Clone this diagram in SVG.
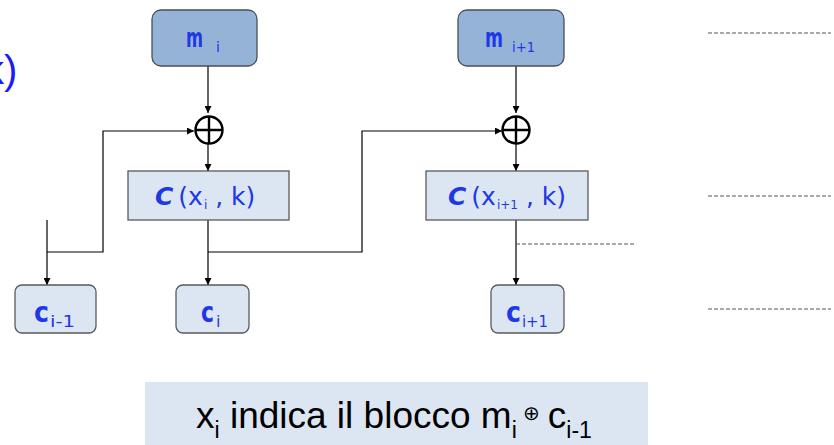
<svg xmlns="http://www.w3.org/2000/svg" width="834" height="445" viewBox="0 0 834 445">
<defs>
<marker id="ah" viewBox="0 0 10 10" refX="10" refY="5" markerWidth="7" markerHeight="7" markerUnits="userSpaceOnUse" orient="auto">
<path d="M0,0 L10,5 L0,10 z" fill="#000"/>
</marker>
<style>
.mbox{fill:#95b3d7;stroke:#4a4f57;stroke-width:1.3}
.cbox{fill:#dce6f2;stroke:#5a5a5a;stroke-width:1.3}
.lbl{font-family:"DejaVu Sans",sans-serif;fill:#1f38e6;font-weight:bold}
.lbn{font-family:"DejaVu Sans",sans-serif;fill:#1f38e6;font-weight:normal}
.ln{fill:none;stroke:#000;stroke-width:1.2}
.dash{fill:none;stroke:#555;stroke-width:1.2;stroke-dasharray:4,2}
.xor{fill:none;stroke:#000;stroke-width:2.4}
.cap{font-family:"Liberation Sans",Arial,sans-serif;fill:#000}
</style>
</defs>
<rect width="834" height="445" fill="#fff"/>
<text x="-16" y="84" font-family="Liberation Sans, Arial, sans-serif" font-size="40" fill="#1a1aff">k)</text>

<g id="connectors">
<path class="ln" d="M208,66 V113" marker-end="url(#ah)"/>
<path class="ln" d="M208,144 V171" marker-end="url(#ah)"/>
<path class="ln" d="M208,220 V285" marker-end="url(#ah)"/>
<path class="ln" d="M208,252 H362 V131 H502" marker-end="url(#ah)"/>
<path class="ln" d="M47,220 V285" marker-end="url(#ah)"/>
<path class="ln" d="M47,252 H103 V131 H194" marker-end="url(#ah)"/>
<path class="ln" d="M516,66 V113" marker-end="url(#ah)"/>
<path class="ln" d="M516,144 V171" marker-end="url(#ah)"/>
<path class="ln" d="M516,220 V285" marker-end="url(#ah)"/>
<path class="dash" d="M516,244 H636"/>
<path class="dash" d="M708,33 H831"/>
<path class="dash" d="M708,196 H831"/>
<path class="dash" d="M708,309 H831"/>
</g>

<g id="m_i">
<rect class="mbox" x="152" y="10" width="105" height="56" rx="9"/>
<text class="lbl" x="186" y="47" font-size="26" textLength="17" lengthAdjust="spacingAndGlyphs">m</text>
<text class="lbn" x="216" y="52" font-size="14">i</text>
</g>
<g id="m_i1">
<rect class="mbox" x="458" y="10" width="106" height="56" rx="9"/>
<text class="lbl" x="485" y="47" font-size="26" textLength="18" lengthAdjust="spacingAndGlyphs">m</text>
<text class="lbn" x="512" y="52" font-size="14" textLength="23" lengthAdjust="spacingAndGlyphs">i+1</text>
</g>

<g id="xor1">
<circle class="xor" cx="209" cy="130" r="13.5"/>
<path class="xor" d="M195.5,130 H222.5 M209,116.5 V143.5"/>
</g>
<g id="xor2">
<circle class="xor" cx="516" cy="130" r="13.5"/>
<path class="xor" d="M502.5,130 H529.5 M516,116.5 V143.5"/>
</g>

<g id="enc_i">
<rect class="cbox" x="128" y="171" width="161" height="49"/>
<text class="lbn" x="155" y="205" font-size="25"><tspan font-style="italic" font-weight="bold">C</tspan><tspan dx="5">(x</tspan><tspan font-size="12" dy="4" dx="1">i</tspan><tspan dy="-4"> , k)</tspan></text>
</g>
<g id="enc_i1">
<rect class="cbox" x="426" y="171" width="162" height="49"/>
<text class="lbn" x="448" y="205" font-size="25"><tspan font-style="italic" font-weight="bold">C</tspan><tspan dx="5">(x</tspan><tspan font-size="12" dy="4" dx="1">i+1</tspan><tspan dy="-4"> , k)</tspan></text>
</g>

<g id="c_im1">
<rect class="cbox" x="15" y="285" width="81" height="48" rx="7"/>
<text class="lbl" x="34" y="322" font-size="28" textLength="15" lengthAdjust="spacingAndGlyphs">c</text>
<text class="lbn" x="50" y="327" font-size="16" textLength="25" lengthAdjust="spacingAndGlyphs">i-1</text>
</g>
<g id="c_i">
<rect class="cbox" x="176" y="285" width="73" height="48" rx="7"/>
<text class="lbl" x="201" y="322" font-size="28" textLength="13" lengthAdjust="spacingAndGlyphs">c</text>
<text class="lbn" x="216" y="327" font-size="16">i</text>
</g>
<g id="c_i1">
<rect class="cbox" x="491" y="285" width="73" height="48" rx="7"/>
<text class="lbl" x="506" y="322" font-size="28" textLength="15" lengthAdjust="spacingAndGlyphs">c</text>
<text class="lbn" x="522" y="327" font-size="16" textLength="26" lengthAdjust="spacingAndGlyphs">i+1</text>
</g>

<g id="note">
<rect x="145" y="382" width="503" height="63" fill="#dce6f2"/>
<text class="cap" y="428" font-size="37"><tspan x="196">x</tspan><tspan font-size="23" dy="10">i</tspan><tspan dy="-10"> indica il blocco m</tspan><tspan font-size="23" dy="10">i</tspan><tspan font-size="20" dy="-18" dx="6">⊕</tspan><tspan dy="8" dx="8">c</tspan><tspan font-size="23" dy="10">i-1</tspan></text>
</g>
</svg>
